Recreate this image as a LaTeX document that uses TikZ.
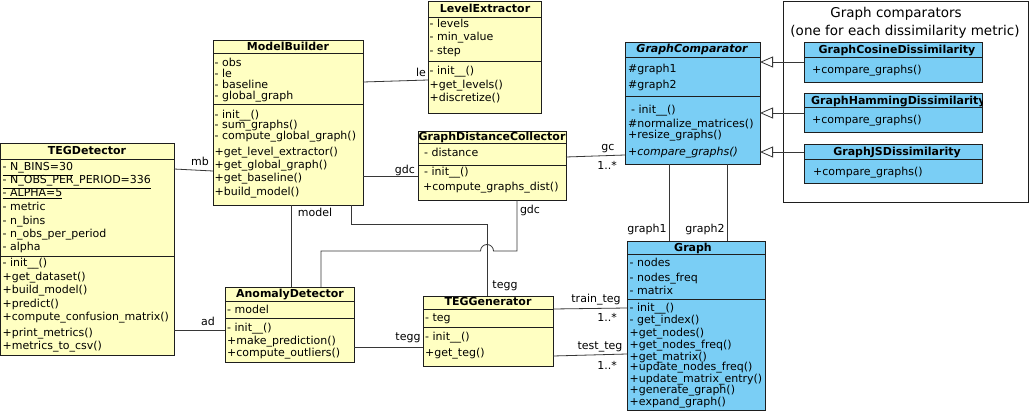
\documentclass[tikz,border=0pt]{standalone}
\usepackage{fontspec}
\setmainfont{DejaVu Sans}[ItalicFont={DejaVu Sans Oblique},BoldFont={DejaVu Sans Bold},BoldItalicFont={DejaVu Sans Bold Oblique}]
\usetikzlibrary{arrows.meta,fit}
\definecolor{ylw}{RGB}{255,255,194}
\definecolor{blu}{RGB}{122,206,245}
\definecolor{edgec}{RGB}{30,30,30}
\definecolor{connc}{RGB}{55,55,55}
\newcommand\umlbox[6]{\node[cls, fill=#6, fit={(#2,#3) (#4,#5)}] (#1) {};}
\newcommand\umlsep[2]{\draw[sepline] (#1.west |- 0,#2) -- (#1.east |- 0,#2);}
\begin{document}
\begin{tikzpicture}[x=1pt,y=-1pt,
  cls/.style={draw=edgec, line width=0.9pt, inner sep=0pt, outer sep=0pt},
  sepline/.style={draw=edgec, line width=0.9pt},
  txt/.style={anchor=base west, inner sep=0pt, yshift=-3.8pt, font=\fontsize{11}{13}\selectfont},
  ttl/.style={anchor=base, inner sep=0pt, yshift=-3.8pt, font=\fontsize{11}{13}\selectfont\bfseries},
  lbl/.style={anchor=base, inner sep=0pt, yshift=-3.8pt, font=\fontsize{11}{13}\selectfont},
  conn/.style={draw=connc, line width=0.8pt},
  inh/.style={conn, -{Triangle[open, length=13pt, width=11pt]}},
]
\useasboundingbox[fill=white] (0,0) rectangle (1030,412);

% container
\umlbox{cont}{783}{1}{1028}{202}{white}
\node[anchor=base, inner sep=0pt, yshift=-4.5pt, font=\fontsize{13.5}{16}\selectfont] (cont-t1) at (896,13) {Graph comparators};
\node[anchor=base, inner sep=0pt, yshift=-4.5pt, font=\fontsize{13.5}{16}\selectfont] (cont-t2) at (905,31) {(one for each dissimilarity metric)};

% TEGDetector
\umlbox{tegd}{0.6}{143}{174}{355}{ylw}
\umlsep{tegd}{159}\umlsep{tegd}{256}
\node[ttl] (tegd-t) at (87,151) {TEGDetector};
\foreach \yy/\tx [count=\i] in {167/{\underline{- N\_BINS=30}},180/{\underline{- N\_OBS\_PER\_PERIOD=336}},193/{\underline{- ALPHA=5}},207/{- metric},221/{- n\_bins},234/{- n\_obs\_per\_period},247/{- alpha},263/{- init\_\_()},277/{+get\_dataset()},290/{+build\_model()},304/{+predict()},317/{+compute\_confusion\_matrix()},333/{+print\_metrics()},346/{+metrics\_to\_csv()}}
  \node[txt] (tegd-\i) at (2.5,\yy) {\tx};

% ModelBuilder
\umlbox{mb}{213}{40}{363}{205}{ylw}
\umlsep{mb}{53}\umlsep{mb}{104}
\node[ttl] (mb-t) at (288,47) {ModelBuilder};
\foreach \yy/\tx [count=\i] in {63/{- obs},74/{- le},85/{- baseline},96/{- global\_graph},115/{- init\_\_()},125/{- sum\_graphs()},136/{- compute\_global\_graph()},152/{+get\_level\_extractor()},165/{+get\_global\_graph()},178/{+get\_baseline()},192/{+build\_model()}}
  \node[txt] (mb-\i) at (214.5,\yy) {\tx};

% LevelExtractor
\umlbox{le}{428}{1}{541}{113}{ylw}
\umlsep{le}{17}\umlsep{le}{61}
\node[ttl] (le-t) at (485,9) {LevelExtractor};
\foreach \yy/\tx [count=\i] in {24/{- levels},37/{- min\_value},51/{- step},71/{- init\_\_()},85/{+get\_levels()},98/{+discretize()}}
  \node[txt] (le-\i) at (429.5,\yy) {\tx};

% GraphDistanceCollector
\umlbox{gdc}{418}{131}{566}{200}{ylw}
\umlsep{gdc}{143}\umlsep{gdc}{165}
\node[ttl] (gdc-t) at (492,137) {GraphDistanceCollector};
\node[txt] (gdc-1) at (424,153) {- distance};
\node[txt] (gdc-2) at (424,172) {- init\_\_()};
\node[txt] (gdc-3) at (423,187) {+compute\_graphs\_dist()};

% GraphComparator
\umlbox{gc}{625}{42}{760}{164}{blu}
\umlsep{gc}{57}\umlsep{gc}{96}
\node[ttl, font=\fontsize{11}{13}\selectfont\bfseries\itshape] (gc-t) at (692,49) {GraphComparator};
\node[txt] (gc-1) at (628,69) {\#graph1};
\node[txt] (gc-2) at (628,85) {\#graph2};
\node[txt] (gc-3) at (631,110) {- init\_\_()};
\node[txt] (gc-4) at (628,124) {\#normalize\_matrices()};
\node[txt] (gc-5) at (628,135) {+resize\_graphs()};
\node[txt] (gc-6) at (628,152) {\itshape +compare\_graphs()};

% Graph
\umlbox{graph}{627}{241}{765}{410}{blu}
\umlsep{graph}{254}\umlsep{graph}{299}
\node[ttl] (graph-t) at (693,248) {Graph};
\foreach \yy/\tx [count=\i] in {263/{- nodes},278/{- nodes\_freq},291/{- matrix},308/{- init\_\_()},320/{- get\_index()},333/{+get\_nodes()},345/{+get\_nodes\_freq()},357/{+get\_matrix()},367/{+update\_nodes\_freq()},379/{+update\_matrix\_entry()},390/{+generate\_graph()},402/{+expand\_graph()}}
  \node[txt] (graph-\i) at (629.5,\yy) {\tx};

% AnomalyDetector
\umlbox{ad}{225}{287}{354}{362}{ylw}
\umlsep{ad}{301}\umlsep{ad}{318}
\node[ttl] (ad-t) at (290,294) {AnomalyDetector};
\foreach \yy/\tx [count=\i] in {310/{- model},328/{- init\_\_()},341/{+make\_prediction()},353/{+compute\_outliers()}}
  \node[txt] (ad-\i) at (227,\yy) {\tx};

% TEGGenerator
\umlbox{tegg}{423}{296}{553}{366}{ylw}
\umlsep{tegg}{309}\umlsep{tegg}{327}
\node[ttl] (tegg-t) at (488,302) {TEGGenerator};
\foreach \yy/\tx [count=\i] in {318/{- teg},337/{- init\_\_()},353/{+get\_teg()}}
  \node[txt] (tegg-\i) at (425,\yy) {\tx};

% subclasses
\umlbox{cos}{804}{42}{982}{82}{blu}
\umlsep{cos}{57}
\node[ttl] (cos-t) at (897,50) {GraphCosineDissimilarity};
\node[txt] (cos-1) at (812,70) {+compare\_graphs()};
\umlbox{ham}{804}{93}{982}{132}{blu}
\umlsep{ham}{107}
\begin{scope}
\clip (804,93) rectangle (982,132);
\node[ttl, anchor=base west] (ham-t) at (811,101) {GraphHammingDissimilarity};
\end{scope}
\node[txt] (ham-1) at (812,120) {+compare\_graphs()};
\umlbox{js}{804}{144}{982}{183}{blu}
\umlsep{js}{159}
\node[ttl] (js-t) at (897,152) {GraphJSDissimilarity};
\node[txt] (js-1) at (813,172) {+compare\_graphs()};

% connectors
\draw[conn] (tegd.east |- 0,169) -- (mb.west |- 0,171);
\node[lbl] (l-mb) at (200,162) {mb};
\draw[conn] (tegd.east |- 0,330) -- (ad.west |- 0,330);
\node[lbl] (l-ad) at (208,322) {ad};
\draw[conn] (mb.east |- 0,82) -- (le.west |- 0,80);
\node[lbl] (l-le) at (421,73) {le};
\draw[conn] (mb.east |- 0,176) -- (gdc.west |- 0,176);
\node[lbl] (l-gdc1) at (405,170) {gdc};
\draw[conn] (mb.south -| 291,0) -- (ad.north -| 291,0);
\node[lbl] (l-model) at (315,213) {model};
\draw[conn] (gdc.south -| 517,0) -- (517,251) -- (493.5,251) arc[start angle=0, end angle=180, radius=6.5pt] -- (321,251) -- (ad.north -| 321,0);
\node[lbl] (l-gdc2) at (530,210) {gdc};
\draw[conn] (mb.south -| 351,0) -- (351,224) -- (487,224) -- (tegg.north -| 487,0);
\node[lbl] (l-tegg1) at (505,285) {tegg};
\draw[conn] (gdc.east |- 0,157) -- (gc.west |- 0,155);
\node[lbl] (l-gc) at (608,147) {gc};
\node[lbl] (l-m1) at (607,166) {1..*};
\draw[conn] (gc.south -| 669,0) -- (graph.north -| 669,0);
\node[lbl] (l-g1) at (647,229) {graph1};
\draw[conn] (gc.south -| 727,0) -- (graph.north -| 727,0);
\node[lbl] (l-g2) at (705,229) {graph2};
\draw[conn] (tegg.east |- 0,309) -- (graph.west |- 0,308);
\node[lbl] (l-train) at (596,299) {train\_teg};
\node[lbl] (l-m2) at (607,318) {1..*};
\draw[conn] (tegg.east |- 0,356) -- (graph.west |- 0,354);
\node[lbl] (l-test) at (600,346) {test\_teg};
\node[lbl] (l-m3) at (607,366) {1..*};
\draw[conn] (ad.east |- 0,347) -- (tegg.west |- 0,347);
\node[lbl] (l-tegg2) at (408,337) {tegg};
\draw[inh] (cos.west |- 0,62) -- (gc.east |- 0,62);
\draw[inh] (ham.west |- 0,113) -- (gc.east |- 0,113);
\draw[inh] (js.west |- 0,152) -- (gc.east |- 0,152);
\end{tikzpicture}
\end{document}
